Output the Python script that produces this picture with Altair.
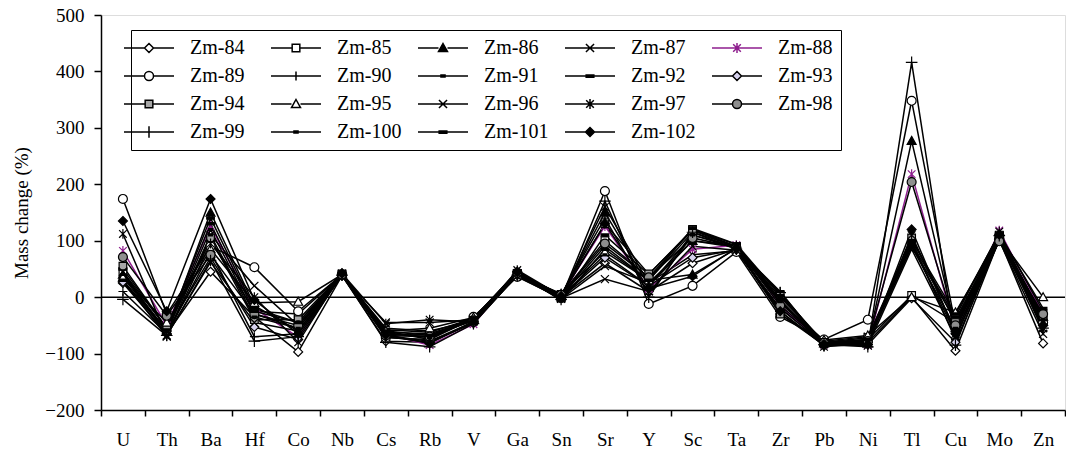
import altair as alt
import pandas as pd

elements = ["U", "Th", "Ba", "Hf", "Co", "Nb", "Cs", "Rb", "V", "Ga", "Sn",
            "Sr", "Y", "Sc", "Ta", "Zr", "Pb", "Ni", "Tl", "Cu", "Mo", "Zn"]

#            U   Th   Ba   Hf   Co  Nb   Cs   Rb   V   Ga  Sn   Sr   Y   Sc  Ta   Zr   Pb   Ni   Tl   Cu   Mo   Zn
zm84  = [25, -65,  45, -35, -97, 38, -78, -80, -45, 38,  0,  60, 10,  60, 85, -30, -85, -80,   0, -95, 102, -82]
zm85  = [45, -55, 100, -25, -30, 40, -65, -70, -40, 42,  5, 100, 35, 120, 90,   5, -80, -75,   3, -45, 108, -40]
zm86  = [40, -60, 150, -15, -60, 42, -60, -75, -38, 45,  2, 150, 20, 100, 88, -10, -82, -82, 277, -55, 110, -35]
zm87  = [30, -70, 110,  20, -50, 39, -55, -60, -42, 40, -3,  55, 25,  75, 82, -20, -78, -70,  95, -65, 104, -55]
zm88  = [82, -50, 126, -20, -71, 41, -65, -85, -48, 43,  3, 126, 15,  85, 92, -15, -84, -85, 218, -60, 118, -30]
zm89  = [174, -30, 90,  53, -25, 40, -72, -75, -35, 36, -2, 188, -12, 20, 80, -35, -75, -40, 348, -50, 106, -45]
zm90  = [10, -65,  80, -70, -65, 38, -68, -78, -44, 41,  4, 140,  5, 110, 87,  10, -86, -78, 100, -75, 112, -60]
zm91  = [35, -60, 120, -30, -55, 42, -62, -65, -40, 44,  1,  90, 30, 115, 90,   0, -80, -80,  90, -40, 108, -40]
zm92  = [50, -55, 140, -20, -45, 40, -58, -62, -38, 46, -5, 110, 40, 120, 93,  -5, -82, -76,  95, -35, 114, -25]
zm93  = [27, -60,  70, -53, -75, 39, -70, -80, -46, 39,  0,  70, 20,  70, 84, -25, -86, -84,  -2, -80, 101, -50]
zm94  = [55, -55, 105, -40, -40, 41, -66, -67, -42, 42,  3, 130, 41, 118, 89, -30, -80, -72, 105, -45, 110, -35]
zm95  = [35, -45,  85, -10,  -8, 40, -60, -55, -36, 40,  6,  80, 30,  40, 86, -10, -76, -68,   0, -27, 105,   0]
zm96  = [45, -68,  62, -45, -60, 38, -45, -45, -40, 37, -2,  32, 10,  90, 83, -20, -83, -86,  85, -70, 100, -65]
zm97  = [112, -69, 95,   0, -80, 42, -47, -40, -44, 48,  2, 160, 25, 100, 91,  -5, -88, -82, 110, -60, 116, -45]
zm98  = [71, -33,  75, -30, -50, 40, -68, -70, -41, 43,  4,  95, 35, 105, 88, -15, -81, -78, 204, -50,  99, -30]
zm99  = [-4, -68,  65, -78, -70, 39, -80, -88, -47, 39, -4, 170,  0, 115, 85,   8, -84, -88, 416, -85, 109, -55]
zm100 = [40, -62, 110, -35, -55, 41, -63, -72, -39, 41,  1,  75, 20, 110, 90,  -8, -79, -80,  90, -55, 107, -40]
zm101 = [30, -58, 130, -25, -45, 40, -60, -68, -37, 44, -6,  85, 30, 122, 94,   3, -82, -75, 100, -30, 112, -20]
zm102 = [135, -25, 174, -5, -65, 42, -67, -82, -43, 45,  2, 130, 15,  37, 87, -25, -85, -84, 120, -65, 111, -50]

series_names = ["Zm-84", "Zm-85", "Zm-86", "Zm-87", "Zm-88", "Zm-89", "Zm-90", "Zm-91",
                "Zm-92", "Zm-93", "Zm-94", "Zm-95", "Zm-96", "Zm-97", "Zm-98", "Zm-99",
                "Zm-100", "Zm-101", "Zm-102"]
series_values = [zm84, zm85, zm86, zm87, zm88, zm89, zm90, zm91, zm92, zm93, zm94,
                 zm95, zm96, zm97, zm98, zm99, zm100, zm101, zm102]
zero_line = [0]
y_ticks = [-200, -100, 0, 100, 200, 300, 400, 500]

rows = []
for name, vals in zip(series_names, series_values):
    for i, (el, v) in enumerate(zip(elements, vals)):
        rows.append({"series": name, "lab": name, "element": el, "value": v, "idx": i})
df = pd.DataFrame(rows)

# ---- marker styles ----
marker_kind = ["diamond", "square", "triangle", "x", "star", "circle", "plus", "sdash",
               "dash", "diamond", "square", "triangle", "x", "star", "circle", "plus2",
               "sdash", "dash", "diamond"]
fills = ["white", "white", "black", "transparent", "transparent", "white", "transparent",
         "black", "black", "#d6d2ee", "#a6a6a6", "white", "transparent", "transparent",
         "#8f8f8f", "transparent", "black", "black", "black"]
strokes = ["black"] * 19
strokes[4] = "#8e1f8e"


def f(v):
    return f"{v:.3f}"


def marker(kind, r):
    if kind == "diamond":
        return f"M0,{f(-r)}L{f(r)},0L0,{f(r)}L{f(-r)},0Z"
    if kind == "square":
        s = r * 0.85
        return f"M{f(-s)},{f(-s)}H{f(s)}V{f(s)}H{f(-s)}Z"
    if kind == "triangle":
        return f"M0,{f(-r)}L{f(r)},{f(0.8*r)}H{f(-r)}Z"
    if kind == "x":
        s = r * 0.9
        return f"M{f(-s)},{f(-s)}L{f(s)},{f(s)}M{f(-s)},{f(s)}L{f(s)},{f(-s)}"
    if kind == "star":
        s = r * 0.85
        return (f"M{f(-s)},{f(-s)}L{f(s)},{f(s)}M{f(-s)},{f(s)}L{f(s)},{f(-s)}"
                f"M0,{f(-1.1*r)}V{f(1.1*r)}")
    if kind == "circle":
        return f"M{f(-r)},0A{f(r)},{f(r)} 0 1,0 {f(r)},0A{f(r)},{f(r)} 0 1,0 {f(-r)},0Z"
    if kind == "plus":
        return f"M{f(-r)},0H{f(r)}M0,{f(-r)}V{f(r)}"
    if kind == "plus2":
        s = r * 1.3
        return f"M{f(-s)},0H{f(s)}M0,{f(-s)}V{f(s)}"
    if kind == "sdash":
        return f"M{f(-0.45*r)},{f(-0.2*r)}H{f(0.45*r)}V{f(0.2*r)}H{f(-0.45*r)}Z"
    if kind == "dash":
        return f"M{f(-0.85*r)},{f(-0.25*r)}H{f(0.85*r)}V{f(0.25*r)}H{f(-0.85*r)}Z"
    return ""


chart_paths = [marker(k, 1.0) for k in marker_kind]
legend_paths = []
for k in marker_kind:
    r = 0.9
    if k in ("diamond", "square", "triangle", "circle"):
        legend_paths.append(f"M-5,0H{f(-r)}M{f(r)},0H5" + marker(k, r))
    else:
        legend_paths.append("M-5,0H5" + marker(k, r))

FONT = "Liberation Serif"

x_enc = alt.X(
    "element:N", sort=elements, bandPosition=0.5,
    scale=alt.Scale(type="band", paddingInner=0, paddingOuter=0),
    axis=alt.Axis(title=None, labelAngle=0, tickBand="extent", domainColor="black",
                  domainWidth=1.5, tickColor="black", tickWidth=1.5, tickSize=6,
                  labelFont=FONT, labelFontSize=19, labelColor="black", labelPadding=14,
                  grid=False))
y_enc = alt.Y(
    "value:Q", scale=alt.Scale(domain=[-200, 500], nice=False, zero=False),
    axis=alt.Axis(values=y_ticks, title="Mass change (%)", domainColor="black",
                  domainWidth=1.5, tickColor="black", tickWidth=1.5, tickSize=7,
                  labelFont=FONT, labelFontSize=19, labelColor="black", labelPadding=10,
                  titleFont=FONT, titleFontSize=19, titleFontWeight="normal",
                  titleColor="black", titleX=-70, grid=False))

stroke_scale = alt.Scale(domain=series_names, range=strokes)
fill_scale = alt.Scale(domain=series_names, range=fills)

base = alt.Chart(df)

zero = alt.Chart(pd.DataFrame({"z": zero_line})).mark_rule(
    color="black", strokeWidth=1.5).encode(y="z:Q")

lines = base.mark_line(strokeWidth=1.5).encode(
    x=x_enc, y=y_enc,
    stroke=alt.Stroke("series:N", scale=stroke_scale, legend=None),
    order=alt.Order("idx:Q"))

points = base.mark_point(filled=False, opacity=1, size=80, strokeWidth=1.2).encode(
    x=x_enc, y=y_enc,
    shape=alt.Shape("series:N", scale=alt.Scale(domain=series_names, range=chart_paths),
                    legend=None),
    fill=alt.Fill("series:N", scale=fill_scale, legend=None),
    stroke=alt.Stroke("series:N", scale=stroke_scale, legend=None))

legend_layer = base.transform_filter("false").mark_point(
    filled=False, opacity=1, size=100, strokeWidth=1.5).encode(
    x=x_enc, y=y_enc,
    shape=alt.Shape("lab:N", scale=alt.Scale(domain=series_names, range=legend_paths),
                    legend=alt.Legend(orient="none", legendX=30, legendY=15, columns=5,
                                      direction="horizontal",
                                      title=None, symbolSize=100, symbolStrokeWidth=1.5,
                                      labelFont=FONT, labelFontSize=20, labelColor="black",
                                      labelOffset=31, columnPadding=13, rowPadding=8,
                                      gridAlign="all", padding=8, strokeColor="black",
                                      fillColor="white", symbolOpacity=1, labelLimit=200)),
    fill=alt.Fill("lab:N", scale=alt.Scale(domain=series_names, range=fills)),
    stroke=alt.Stroke("lab:N", scale=alt.Scale(domain=series_names, range=strokes)))

chart = alt.layer(zero, lines, points, legend_layer).resolve_scale(
    shape="independent", fill="independent", stroke="independent"
).properties(
    width=964, height=395,
    padding={"left": 101, "top": 15, "right": 1, "bottom": 49},
    autosize="none",
    background="white",
).configure_view(stroke=None).configure(font=FONT)

chart.save("out.html", embed_options={"renderer": "svg", "actions": False})
